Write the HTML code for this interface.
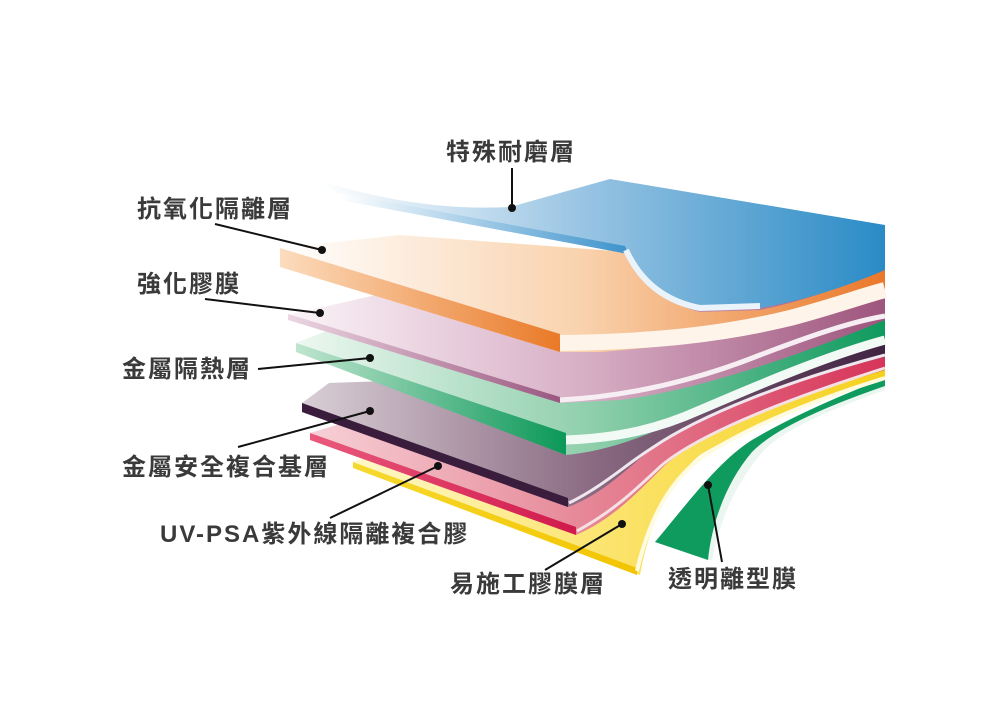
<!DOCTYPE html>
<html><head><meta charset="utf-8"><style>
html,body{margin:0;padding:0;background:#fff;}
svg{display:block}
text{font-family:"Liberation Sans","Noto Sans CJK TC",sans-serif;font-weight:700;font-size:24px;letter-spacing:2px;fill:#3a3a3a;}
</style></head><body>
<svg width="1000" height="722" viewBox="0 0 1000 722" xmlns="http://www.w3.org/2000/svg">
<defs>
<linearGradient id="gB" x1="320" y1="0" x2="885" y2="0" gradientUnits="userSpaceOnUse"><stop offset="0" stop-color="#fff"/><stop offset="0.45" stop-color="#9cc6e4"/><stop offset="1" stop-color="#2a8bc6"/></linearGradient>
<linearGradient id="gO" x1="280" y1="0" x2="885" y2="0" gradientUnits="userSpaceOnUse"><stop offset="0" stop-color="#fff"/><stop offset="0.5" stop-color="#f9d2ad"/><stop offset="1" stop-color="#e9782a"/></linearGradient>
<linearGradient id="gM" x1="288" y1="0" x2="885" y2="0" gradientUnits="userSpaceOnUse"><stop offset="0" stop-color="#fbf4f8"/><stop offset="0.5" stop-color="#d7aec5"/><stop offset="1" stop-color="#9e557d"/></linearGradient>
<linearGradient id="gG" x1="296" y1="0" x2="885" y2="0" gradientUnits="userSpaceOnUse"><stop offset="0" stop-color="#eef8f1"/><stop offset="0.5" stop-color="#8fcfac"/><stop offset="1" stop-color="#0e9a5e"/></linearGradient>
<linearGradient id="gD" x1="302" y1="0" x2="885" y2="0" gradientUnits="userSpaceOnUse"><stop offset="0" stop-color="#d9cfd6"/><stop offset="0.5" stop-color="#8a6a82"/><stop offset="1" stop-color="#3f2341"/></linearGradient>
<linearGradient id="gR" x1="310" y1="0" x2="885" y2="0" gradientUnits="userSpaceOnUse"><stop offset="0" stop-color="#f7d0d6"/><stop offset="0.5" stop-color="#e58494"/><stop offset="1" stop-color="#d7345a"/></linearGradient>
<linearGradient id="gY" x1="353" y1="0" x2="885" y2="0" gradientUnits="userSpaceOnUse"><stop offset="0" stop-color="#fff8c8"/><stop offset="0.5" stop-color="#fbe36a"/><stop offset="1" stop-color="#f5d11c"/></linearGradient>
<linearGradient id="sB" x1="340" y1="0" x2="628" y2="0" gradientUnits="userSpaceOnUse"><stop offset="0" stop-color="#fff"/><stop offset="1" stop-color="#3d93cc"/></linearGradient>
<linearGradient id="sO" x1="280" y1="0" x2="560" y2="0" gradientUnits="userSpaceOnUse"><stop offset="0" stop-color="#fcdcbd"/><stop offset="1" stop-color="#e97a28"/></linearGradient>
<linearGradient id="sM" x1="288" y1="0" x2="560" y2="0" gradientUnits="userSpaceOnUse"><stop offset="0" stop-color="#ecd6e2"/><stop offset="1" stop-color="#9a5780"/></linearGradient>
<linearGradient id="sG" x1="296" y1="0" x2="566" y2="0" gradientUnits="userSpaceOnUse"><stop offset="0" stop-color="#bfe5cf"/><stop offset="1" stop-color="#0b9858"/></linearGradient>
<linearGradient id="sR" x1="310" y1="0" x2="576" y2="0" gradientUnits="userSpaceOnUse"><stop offset="0" stop-color="#e95a7c"/><stop offset="1" stop-color="#d1194c"/></linearGradient>
<linearGradient id="sY" x1="353" y1="0" x2="637" y2="0" gradientUnits="userSpaceOnUse"><stop offset="0" stop-color="#f6d92e"/><stop offset="1" stop-color="#f2c400"/></linearGradient>
</defs>

<!-- green release film -->
<path d="M655,542 C690,500 720,460 757,437 C800,410 850,395 885,380 L885,390 C830,410 780,430 760,455 C735,485 720,520 712,560 L708,560 Z" fill="#eaf6ef"/>
<path d="M655,542 C690,500 720,460 752,440 C800,412 850,392 885,378 L885,386 C830,405 775,428 752,452 C728,480 712,520 708,560 Z" fill="#0f9a5e"/>

<!-- yellow -->
<path d="M353,462 L400,445 L700,400 L885,365 L885,378 C820,400 740,430 700,455 C670,480 650,520 640,575 L353,468 Z" fill="url(#gY)"/>
<path d="M353,462 L637,568 L637,575 L353,468 Z" fill="url(#sY)"/>
<path d="M637,571 C650,515 672,478 705,455 C760,420 830,395 885,378" fill="none" stroke="#fffbe0" stroke-width="4"/>

<!-- red -->
<path d="M310,433 L360,418 L700,385 L885,352 L885,370 C800,395 700,430 660,470 C630,500 610,520 576,535 L310,440 Z" fill="url(#gR)"/>
<path d="M310,433 L576,527 L576,535 L310,440 Z" fill="url(#sR)"/>
<path d="M577,531 C615,510 635,490 662,465 C705,430 800,395 885,368" fill="none" stroke="#f5e0e4" stroke-width="3"/>

<!-- dark purple -->
<path d="M302,403 L329,383 L700,370 L885,340 L885,357 C790,380 690,420 650,450 C620,475 600,495 568,507 L302,412 Z" fill="url(#gD)"/>
<path d="M302,403 L568,498 L568,507 L302,412 Z" fill="#3a1c3c"/>
<path d="M569,503 C605,485 625,465 652,448 C700,415 790,380 885,355" fill="none" stroke="#efe6ee" stroke-width="3"/>

<!-- green -->
<path d="M296,343 L329,330 L700,330 L885,318 L885,343 C800,370 720,400 685,417 C640,440 600,452 566,455 L296,350 Z" fill="url(#gG)"/>
<path d="M296,343 L566,433 L566,455 L296,352 Z" fill="url(#sG)"/>
<path d="M566,440 C620,438 660,428 700,410 C770,380 830,355 885,340" fill="none" stroke="#f2faf5" stroke-width="9"/>

<!-- mauve -->
<path d="M288,315 L385,293 L700,300 L885,288 L885,320 C800,355 700,390 620,400 L560,403 L288,320 Z" fill="url(#gM)"/>
<path d="M288,314 L560,397 L560,403 L288,320 Z" fill="url(#sM)"/>
<path d="M560,400 C620,397 690,383 760,355 C810,336 850,322 885,316" fill="none" stroke="#f6eef3" stroke-width="5"/>

<!-- orange -->
<path d="M280,248 L400,235 L628,252 Q650,300 700,312 L760,310 Q820,298 885,268 L885,292 C800,325 700,345 600,352 L560,352 L280,267 Z" fill="url(#gO)"/>
<path d="M280,248 L560,334 L560,352 L280,267 Z" fill="url(#sO)"/>
<path d="M560,343 C650,342 720,335 790,318 C835,306 862,296 885,290" fill="none" stroke="#fff4ea" stroke-width="16"/>

<!-- blue -->
<path d="M317,180 Q420,212 510,207 L610,179 L885,225 L885,270 Q820,298 760,308 L700,310 Q650,298 628,252 L340,195 Z" fill="url(#gB)"/>
<path d="M340,193 L625,246 L628,254 L340,200 Z" fill="url(#sB)"/>
<path d="M626,250 Q648,298 700,308 L760,306" fill="none" stroke="#eaf3fa" stroke-width="6"/>

<!-- leader lines -->
<g stroke="#111" stroke-width="2" fill="none">
<line x1="512" y1="168" x2="512" y2="208"/>
<line x1="215" y1="224" x2="322" y2="250"/>
<line x1="205" y1="299" x2="320" y2="313"/>
<line x1="258" y1="369" x2="370" y2="358"/>
<line x1="238" y1="447" x2="370" y2="411"/>
<line x1="330" y1="518" x2="438" y2="466"/>
<line x1="545" y1="570" x2="622" y2="524"/>
<line x1="722" y1="562" x2="708" y2="485"/>
</g>
<g fill="#111">
<circle cx="512" cy="208" r="4"/><circle cx="322" cy="250" r="4"/><circle cx="320" cy="313" r="4"/>
<circle cx="370" cy="358" r="4"/><circle cx="370" cy="411" r="4"/><circle cx="438" cy="466" r="4"/>
<circle cx="622" cy="524" r="4"/><circle cx="708" cy="485" r="4"/>
</g>

<text x="446" y="160">特殊耐磨層</text>
<text x="137" y="217">抗氧化隔離層</text>
<text x="137" y="292">強化膠膜</text>
<text x="122" y="377">金屬隔熱層</text>
<text x="122" y="475">金屬安全複合基層</text>
<text x="160" y="542">UV-PSA紫外線隔離複合膠</text>
<text x="450" y="592">易施工膠膜層</text>
<text x="668" y="587">透明離型膜</text>
</svg>
</body></html>
